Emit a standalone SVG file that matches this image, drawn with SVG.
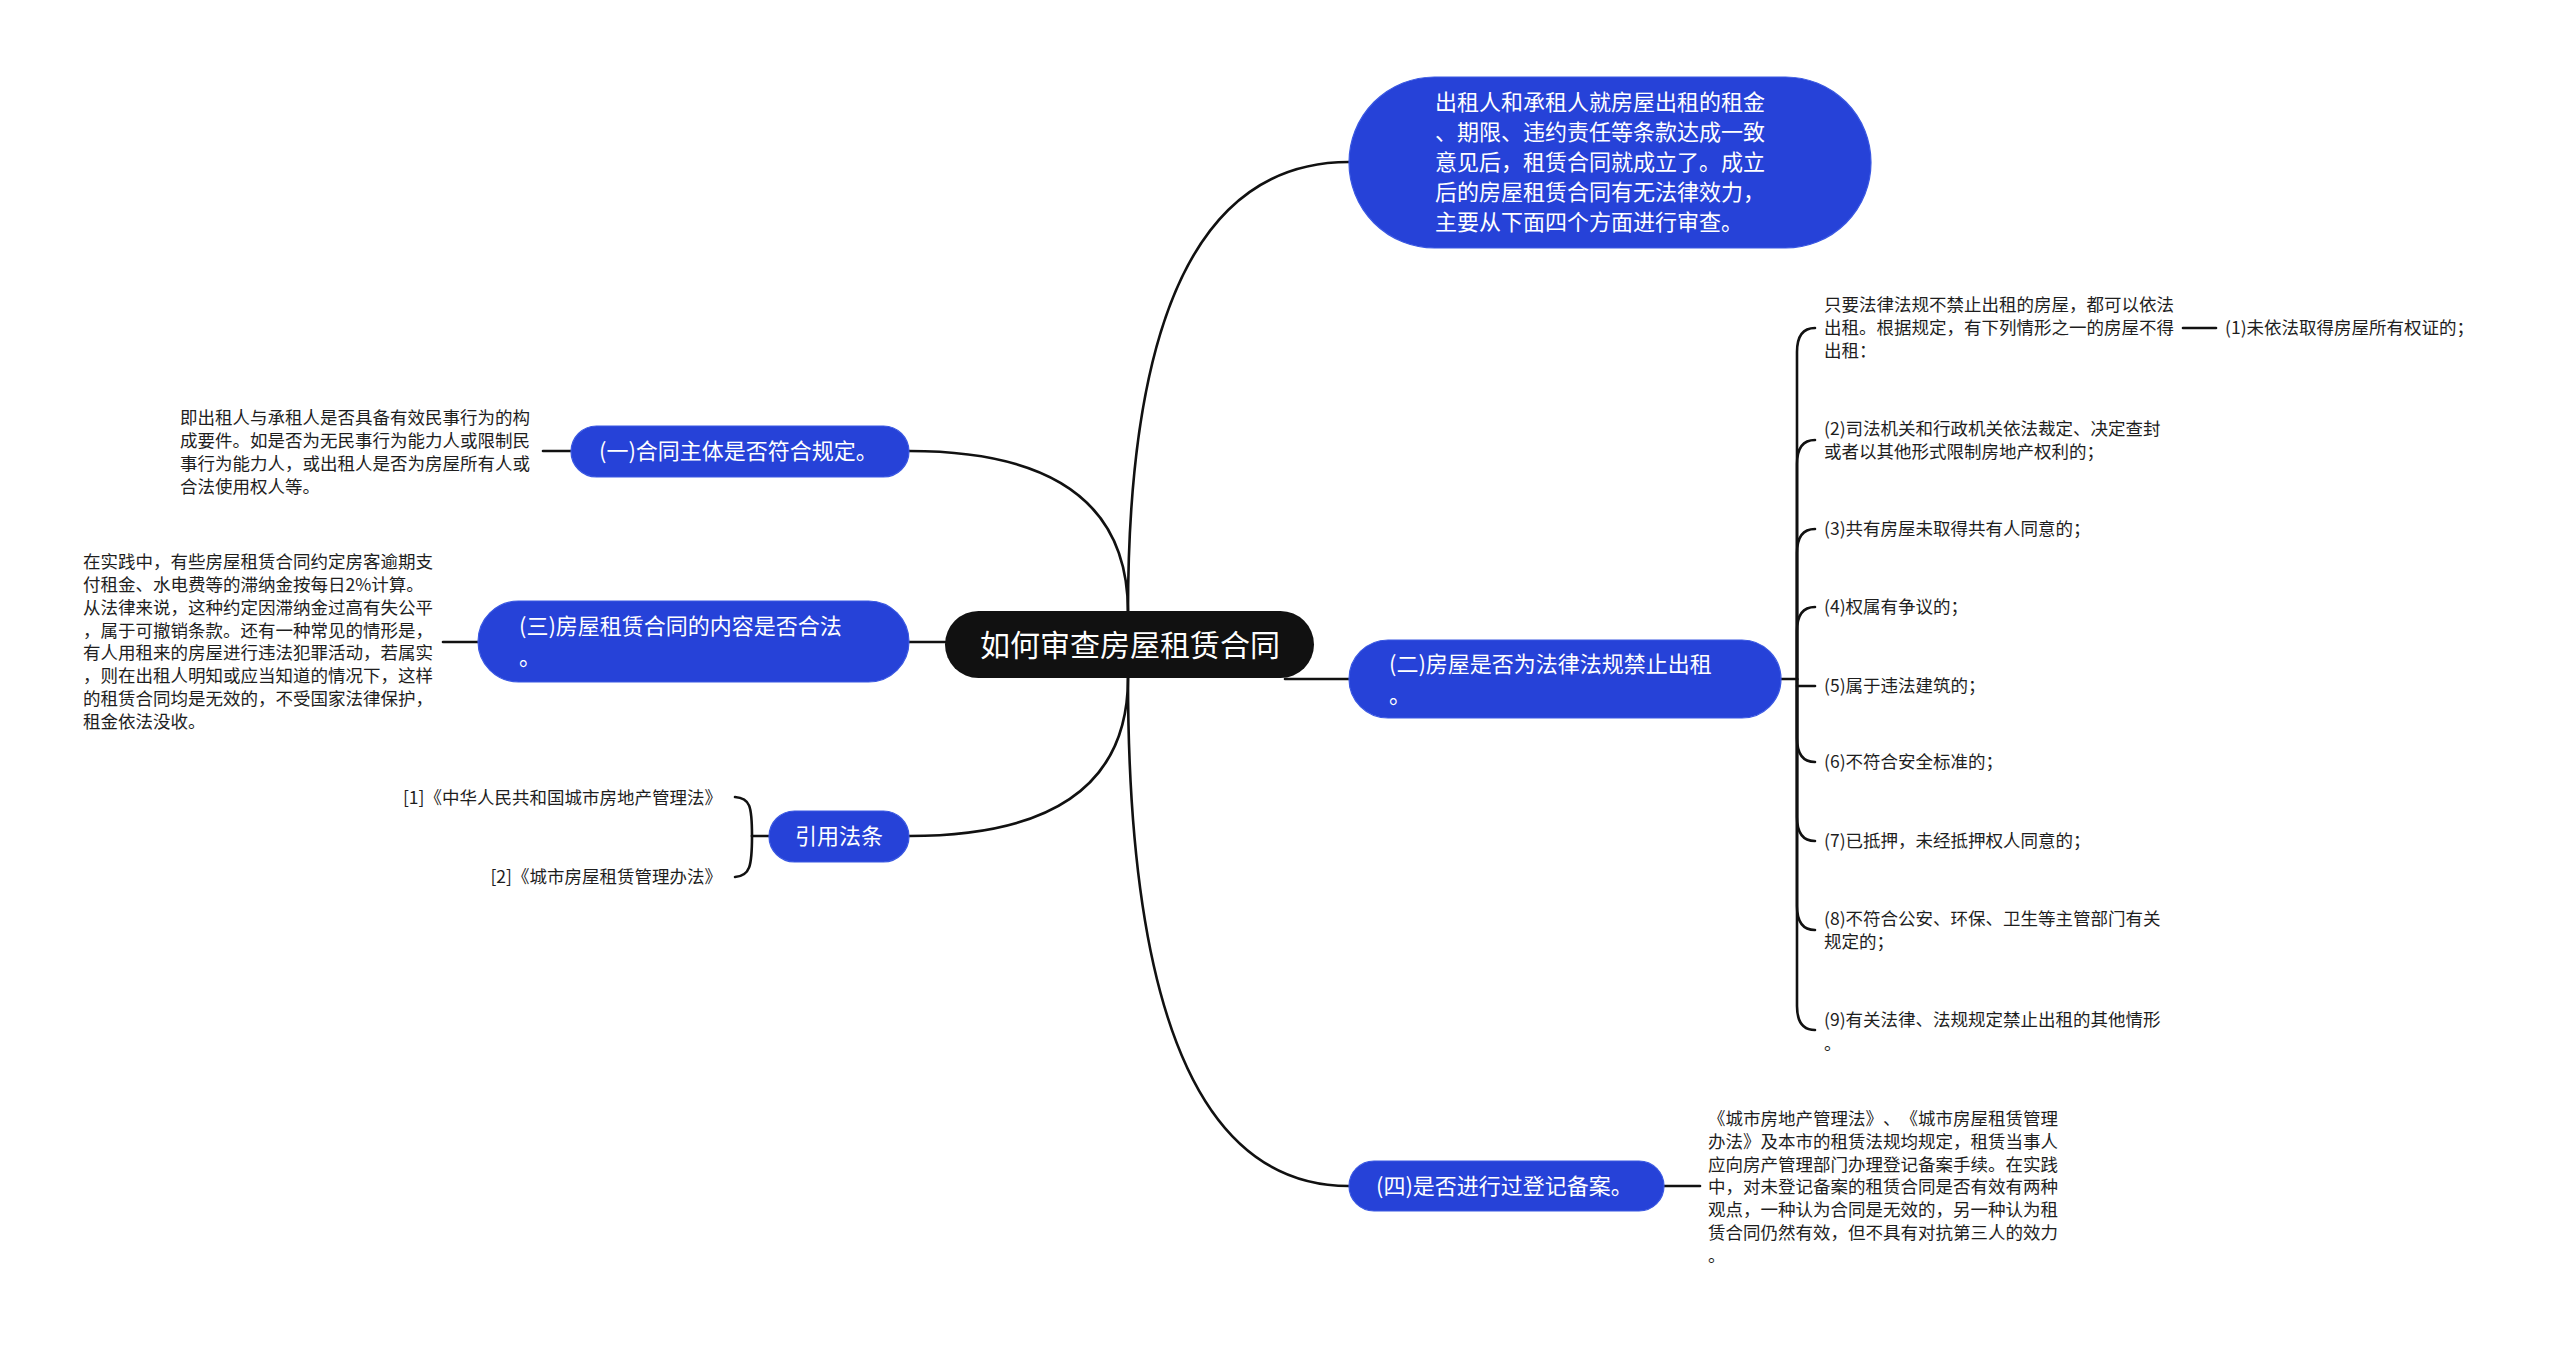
<svg xmlns="http://www.w3.org/2000/svg" width="2560" height="1351" viewBox="0 0 2560 1351">
<style>
.bg{fill:#ffffff}
.c{fill:none;stroke:#111111;stroke-width:2.6;stroke-linecap:round}
.blue{fill:#2642D8;stroke:#3A58E2;stroke-width:1.2}
.root{fill:#111111}
.t{font-family:"Noto Sans CJK SC","Noto Sans",sans-serif;text-spacing-trim:space-all;font-kerning:none}
.wt{fill:#ffffff;font-size:22px}
.rt{fill:#ffffff;font-size:30px}
.dt{fill:#1e1e1e;font-size:17.5px}
</style>
<rect class="bg" x="0" y="0" width="2560" height="1351"/>
<g id="connectors">
<path class="c" d="M1128,612 Q1128,162 1349,162"/>
<path class="c" d="M1128,612 Q1128,451 909,451"/>
<path class="c" d="M945,642 H909"/>
<path class="c" d="M1128,678 Q1128,836 909,836"/>
<path class="c" d="M1128,678 Q1128,1186 1349,1186"/>
<path class="c" d="M1285,679 H1349"/>
<path class="c" d="M543,451 H571"/>
<path class="c" d="M443,642 H478"/>
<path class="c" d="M769,836 H752"/>
<path class="c" d="M752,836 C752,806 750,798 735,797"/>
<path class="c" d="M752,836 C752,866 750,876 735,877"/>
<path class="c" d="M1664,1186 H1700"/>
<path class="c" d="M1781,679 H1797 V352 Q1797,328 1815,328"/>
<path class="c" d="M1797,679 V464 Q1797,440 1815,440"/>
<path class="c" d="M1797,679 V553 Q1797,529 1815,529"/>
<path class="c" d="M1797,679 V631 Q1797,607 1815,607"/>
<path class="c" d="M1797,686 H1815"/>
<path class="c" d="M1797,679 V738 Q1797,762 1815,762"/>
<path class="c" d="M1797,679 V817 Q1797,841 1815,841"/>
<path class="c" d="M1797,679 V906 Q1797,930 1815,930"/>
<path class="c" d="M1797,679 V1006 Q1797,1030 1815,1030"/>
<path class="c" d="M2183,328 H2216"/>
</g>
<g id="root">
<rect class="root" x="945" y="611" width="369" height="67" rx="33.5"/>
<text class="t rt" x="1130" y="656" text-anchor="middle">如何审查房屋租赁合同</text>
</g>
<g id="intro">
<rect class="blue" x="1349" y="77" width="522" height="171" rx="85.5"/>
<text class="t wt" x="1435" y="110">出租人和承租人就房屋出租的租金</text>
<text class="t wt" x="1435" y="140">、期限、违约责任等条款达成一致</text>
<text class="t wt" x="1435" y="170">意见后，租赁合同就成立了。成立</text>
<text class="t wt" x="1435" y="200">后的房屋租赁合同有无法律效力，</text>
<text class="t wt" x="1435" y="230">主要从下面四个方面进行审查。</text>
</g>
<g id="n1">
<rect class="blue" x="571" y="426" width="338" height="51" rx="25.5"/>
<text class="t wt" x="599" y="459">(一)合同主体是否符合规定。</text>
</g>
<g id="n1-desc">
<text class="t dt" x="180" y="424">即出租人与承租人是否具备有效民事行为的构</text>
<text class="t dt" x="180" y="447">成要件。如是否为无民事行为能力人或限制民</text>
<text class="t dt" x="180" y="470">事行为能力人，或出租人是否为房屋所有人或</text>
<text class="t dt" x="180" y="493">合法使用权人等。</text>
</g>
<g id="n3">
<rect class="blue" x="478" y="601" width="431" height="81" rx="40.5"/>
<text class="t wt" x="519" y="634">(三)房屋租赁合同的内容是否合法</text>
<text class="t wt" x="519" y="665">。</text>
</g>
<g id="n3-desc">
<text class="t dt" x="83" y="568">在实践中，有些房屋租赁合同约定房客逾期支</text>
<text class="t dt" x="83" y="591">付租金、水电费等的滞纳金按每日2%计算。</text>
<text class="t dt" x="83" y="614">从法律来说，这种约定因滞纳金过高有失公平</text>
<text class="t dt" x="83" y="637">，属于可撤销条款。还有一种常见的情形是，</text>
<text class="t dt" x="83" y="659">有人用租来的房屋进行违法犯罪活动，若属实</text>
<text class="t dt" x="83" y="682">，则在出租人明知或应当知道的情况下，这样</text>
<text class="t dt" x="83" y="705">的租赁合同均是无效的，不受国家法律保护，</text>
<text class="t dt" x="83" y="728">租金依法没收。</text>
</g>
<g id="refs">
<rect class="blue" x="769" y="811" width="140" height="51" rx="25.5"/>
<text class="t wt" x="839" y="844" text-anchor="middle">引用法条</text>
</g>
<g id="ref1">
<text class="t dt" x="722" y="804" text-anchor="end">[1]《中华人民共和国城市房地产管理法》</text>
</g>
<g id="ref2">
<text class="t dt" x="722" y="883" text-anchor="end">[2]《城市房屋租赁管理办法》</text>
</g>
<g id="n2">
<rect class="blue" x="1349" y="640" width="432" height="78" rx="39"/>
<text class="t wt" x="1389" y="672">(二)房屋是否为法律法规禁止出租</text>
<text class="t wt" x="1389" y="703">。</text>
</g>
<g id="n2-intro">
<text class="t dt" x="1824" y="311">只要法律法规不禁止出租的房屋，都可以依法</text>
<text class="t dt" x="1824" y="334">出租。根据规定，有下列情形之一的房屋不得</text>
<text class="t dt" x="1824" y="357">出租：</text>
</g>
<g id="item1"><text class="t dt" x="2225" y="334">(1)未依法取得房屋所有权证的；</text></g>
<g id="item2">
<text class="t dt" x="1824" y="435">(2)司法机关和行政机关依法裁定、决定查封</text>
<text class="t dt" x="1824" y="458">或者以其他形式限制房地产权利的；</text>
</g>
<g id="item3"><text class="t dt" x="1824" y="535">(3)共有房屋未取得共有人同意的；</text></g>
<g id="item4"><text class="t dt" x="1824" y="613">(4)权属有争议的；</text></g>
<g id="item5"><text class="t dt" x="1824" y="692">(5)属于违法建筑的；</text></g>
<g id="item6"><text class="t dt" x="1824" y="768">(6)不符合安全标准的；</text></g>
<g id="item7"><text class="t dt" x="1824" y="847">(7)已抵押，未经抵押权人同意的；</text></g>
<g id="item8">
<text class="t dt" x="1824" y="925">(8)不符合公安、环保、卫生等主管部门有关</text>
<text class="t dt" x="1824" y="948">规定的；</text>
</g>
<g id="item9">
<text class="t dt" x="1824" y="1026">(9)有关法律、法规规定禁止出租的其他情形</text>
<text class="t dt" x="1824" y="1050">。</text>
</g>
<g id="n4">
<rect class="blue" x="1349" y="1161" width="315" height="50" rx="25"/>
<text class="t wt" x="1376" y="1194">(四)是否进行过登记备案。</text>
</g>
<g id="n4-desc">
<text class="t dt" x="1708" y="1125">《城市房地产管理法》、《城市房屋租赁管理</text>
<text class="t dt" x="1708" y="1148">办法》及本市的租赁法规均规定，租赁当事人</text>
<text class="t dt" x="1708" y="1171">应向房产管理部门办理登记备案手续。在实践</text>
<text class="t dt" x="1708" y="1193">中，对未登记备案的租赁合同是否有效有两种</text>
<text class="t dt" x="1708" y="1216">观点，一种认为合同是无效的，另一种认为租</text>
<text class="t dt" x="1708" y="1239">赁合同仍然有效，但不具有对抗第三人的效力</text>
<text class="t dt" x="1708" y="1262">。</text>
</g>
</svg>
